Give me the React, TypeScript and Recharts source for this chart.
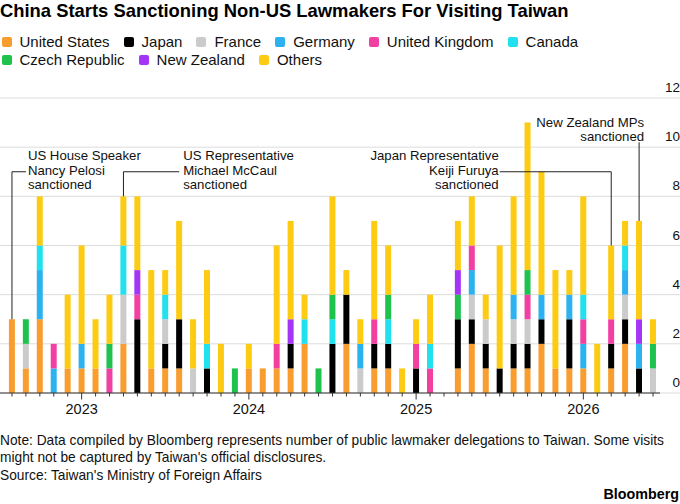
import { BarChart, Bar, XAxis, YAxis, CartesianGrid, ReferenceLine } from 'recharts';

const FONT = '"Liberation Sans", Arial, Helvetica, sans-serif';

// Aug 2022 .. Jun 2026, one bar per month
const months = [
  'Aug 2022', 'Sep 2022', 'Oct 2022', 'Nov 2022', 'Dec 2022',
  'Jan 2023', 'Feb 2023', 'Mar 2023', 'Apr 2023', 'May 2023', 'Jun 2023',
  'Jul 2023', 'Aug 2023', 'Sep 2023', 'Oct 2023', 'Nov 2023', 'Dec 2023',
  'Jan 2024', 'Feb 2024', 'Mar 2024', 'Apr 2024', 'May 2024', 'Jun 2024',
  'Jul 2024', 'Aug 2024', 'Sep 2024', 'Oct 2024', 'Nov 2024', 'Dec 2024',
  'Jan 2025', 'Feb 2025', 'Mar 2025', 'Apr 2025', 'May 2025', 'Jun 2025',
  'Jul 2025', 'Aug 2025', 'Sep 2025', 'Oct 2025', 'Nov 2025', 'Dec 2025',
  'Jan 2026', 'Feb 2026', 'Mar 2026', 'Apr 2026', 'May 2026', 'Jun 2026',
];

const unitedStates = [3, 1, 3, 0, 1, 1, 1, 0, 2, 0, 1, 1, 1, 0, 0, 0, 0, 1, 1, 1, 1, 2, 0, 0, 2, 0, 1, 1, 0, 0, 0, 0, 1, 2, 1, 0, 1, 1, 2, 1, 1, 1, 0, 1, 2, 0, 0];
const japan = [0, 0, 0, 0, 0, 0, 0, 0, 0, 3, 0, 1, 2, 0, 1, 0, 0, 0, 0, 0, 1, 0, 0, 2, 2, 0, 1, 1, 0, 1, 0, 0, 2, 1, 1, 1, 1, 1, 1, 0, 2, 0, 0, 1, 1, 1, 0];
const france = [0, 1, 0, 0, 0, 0, 0, 0, 2, 0, 0, 1, 0, 1, 0, 0, 0, 0, 0, 0, 0, 0, 0, 0, 0, 1, 0, 0, 0, 0, 0, 0, 0, 1, 1, 0, 1, 1, 0, 0, 0, 0, 0, 0, 1, 0, 1];
const germany = [0, 0, 2, 1, 0, 1, 0, 0, 0, 0, 0, 0, 0, 0, 0, 0, 0, 0, 0, 0, 0, 0, 0, 0, 0, 1, 0, 0, 0, 0, 0, 0, 0, 1, 0, 0, 1, 0, 1, 0, 1, 1, 0, 0, 1, 1, 0];
const unitedKingdom = [0, 0, 0, 1, 0, 0, 0, 1, 0, 1, 0, 0, 0, 0, 0, 0, 0, 0, 0, 1, 0, 0, 0, 0, 0, 0, 1, 0, 0, 1, 1, 0, 0, 1, 0, 0, 0, 1, 0, 0, 0, 1, 0, 1, 0, 0, 0];
const canada = [0, 0, 1, 0, 0, 0, 0, 0, 2, 0, 0, 1, 0, 0, 1, 0, 0, 0, 0, 0, 0, 1, 0, 1, 0, 0, 0, 1, 0, 0, 1, 0, 0, 0, 0, 0, 0, 0, 0, 0, 0, 1, 0, 0, 1, 0, 0];
const czechRepublic = [0, 1, 0, 0, 0, 0, 0, 1, 0, 0, 0, 0, 0, 0, 0, 0, 1, 0, 0, 0, 0, 0, 1, 1, 0, 0, 0, 1, 0, 0, 0, 0, 1, 0, 0, 0, 0, 1, 0, 0, 0, 0, 0, 0, 0, 0, 1];
const newZealand = [0, 0, 0, 0, 0, 0, 0, 0, 0, 1, 0, 0, 0, 0, 0, 0, 0, 0, 0, 0, 1, 0, 0, 0, 0, 0, 0, 0, 0, 0, 0, 0, 1, 0, 0, 0, 0, 0, 0, 0, 0, 0, 0, 0, 0, 1, 0];
const others = [0, 0, 2, 0, 3, 4, 2, 2, 2, 3, 4, 1, 4, 2, 3, 2, 0, 1, 0, 4, 4, 1, 0, 4, 1, 1, 4, 2, 1, 1, 2, 0, 2, 2, 1, 5, 4, 6, 5, 4, 1, 4, 2, 3, 1, 4, 1];

const yTicks = [0, 2, 4, 6, 8, 10, 12];

// stacking order, bottom to top
const series = [
  { key: 'us', name: 'United States', values: unitedStates },
  { key: 'jp', name: 'Japan', values: japan },
  { key: 'fr', name: 'France', values: france },
  { key: 'de', name: 'Germany', values: germany },
  { key: 'uk', name: 'United Kingdom', values: unitedKingdom },
  { key: 'ca', name: 'Canada', values: canada },
  { key: 'cz', name: 'Czech Republic', values: czechRepublic },
  { key: 'nz', name: 'New Zealand', values: newZealand },
  { key: 'ot', name: 'Others', values: others },
];

const COLORS: Record<string, string> = {
  'United States': '#f99d2f',
  Japan: '#000000',
  France: '#cbcbcb',
  Germany: '#2cb2f0',
  'United Kingdom': '#f23fa2',
  Canada: '#22e1ef',
  'Czech Republic': '#1fc24d',
  'New Zealand': '#a535f6',
  Others: '#fdcb12',
};

const legendRows = [
  ['United States', 'Japan', 'France', 'Germany', 'United Kingdom', 'Canada'],
  ['Czech Republic', 'New Zealand', 'Others'],
];

const rows = months.map((month, i) => {
  const row: Record<string, string | number> = { month };
  series.forEach((s) => {
    row[s.key] = s.values[i];
  });
  return row;
});

const total = (month: string) => {
  const i = months.indexOf(month);
  return series.reduce((sum, s) => sum + s.values[i], 0);
};

const LINE = '#222';
const ELBOW = 9;

const XTick = (p: any) => {
  const label: string = p.payload.value;
  const major = label.startsWith('Jan');
  return (
    <g>
      <line x1={p.x} x2={p.x} y1={p.y} y2={p.y + (major ? 6.5 : 3.5)} stroke="#333" />
      {major && (
        <text x={p.x} y={p.y + 21} textAnchor="middle" fontSize={14.5} fill="#111">
          {label.slice(4)}
        </text>
      )}
    </g>
  );
};

const YTick = (p: any) => (
  <text x={p.x + 20} y={p.y - 6} textAnchor="end" fontSize={13.5} fill="#111">
    {p.payload.value}
  </text>
);

const gridLine = (p: any) => (
  <line key={`h-${p.index}`} x1={p.x1} x2={p.x2 + 20} y1={p.y1} y2={p.y2} stroke="#dcdcdc" strokeWidth={1} />
);

const noteText = (x: number, y: number, anchor: 'start' | 'end', lines: string[], dys: number[]) => (
  <text x={x} textAnchor={anchor} fontSize={13.2} fill="#111">
    {lines.map((l, i) => (
      <tspan key={i} x={x} y={y + dys[i]}>
        {l}
      </tspan>
    ))}
  </text>
);

const threeLines = [-11.3, 3.3, 17.6];

const pelosiLabel = (p: any) => {
  const vb = p.viewBox;
  return noteText(vb.x + vb.width + 2, vb.y, 'start', ['US House Speaker', 'Nancy Pelosi', 'sanctioned'], threeLines);
};
const mccaulLabel = (p: any) => {
  const vb = p.viewBox;
  return noteText(vb.x + vb.width + 4, vb.y, 'start', ['US Representative', 'Michael McCaul', 'sanctioned'], threeLines);
};
const furuyaLabel = (p: any) => {
  const vb = p.viewBox;
  return noteText(vb.x - 1, vb.y, 'end', ['Japan Representative', 'Keiji Furuya', 'sanctioned'], threeLines);
};
const nzLabel = (p: any) => {
  const vb = p.viewBox;
  return noteText(vb.x + 5, vb.y, 'end', ['New Zealand MPs', 'sanctioned'], [-15.5, -1.5]);
};

const textLine = (top: number, fontSize: number, extra: React.CSSProperties = {}) => ({
  position: 'absolute' as const,
  top,
  left: 0,
  fontSize,
  lineHeight: 1,
  whiteSpace: 'nowrap' as const,
  ...extra,
});

export default function App() {
  return (
    <div style={{ position: 'relative', width: 680, height: 504, fontFamily: FONT, color: '#111', background: '#fff', overflow: 'hidden' }}>
      <style>{'body{margin:0}'}</style>

      <div style={{ position: 'absolute', left: 0, top: 0 }}>
        <BarChart
          width={680}
          height={420}
          data={rows}
          margin={{ top: 98, right: 0, left: 0, bottom: 0 }}
          barCategoryGap="28%"
        >
          <CartesianGrid vertical={false} horizontal={gridLine} />
          <XAxis
            dataKey="month"
            interval={0}
            height={27}
            padding={{ left: 5, right: 0 }}
            tickSize={0}
            tickMargin={0}
            tickLine={false}
            axisLine={{ stroke: '#333' }}
            tick={XTick}
          />
          <YAxis
            orientation="right"
            width={20}
            domain={[0, 12]}
            ticks={yTicks}
            tickSize={0}
            tickMargin={0}
            axisLine={false}
            tickLine={false}
            tick={YTick}
          />
          {series.map((s) => (
            <Bar key={s.key} dataKey={s.key} name={s.name} stackId="a" fill={COLORS[s.name]} isAnimationActive={false} />
          ))}

          <ReferenceLine segment={[{ x: 'Aug 2022', y: total('Aug 2022') }, { x: 'Aug 2022', y: ELBOW }]} stroke={LINE} />
          <ReferenceLine segment={[{ x: 'Aug 2022', y: ELBOW }, { x: 'Sep 2022', y: ELBOW }]} stroke={LINE} label={pelosiLabel} />

          <ReferenceLine segment={[{ x: 'Apr 2023', y: total('Apr 2023') }, { x: 'Apr 2023', y: ELBOW }]} stroke={LINE} />
          <ReferenceLine segment={[{ x: 'Apr 2023', y: ELBOW }, { x: 'Aug 2023', y: ELBOW }]} stroke={LINE} label={mccaulLabel} />

          <ReferenceLine segment={[{ x: 'Mar 2026', y: total('Mar 2026') }, { x: 'Mar 2026', y: ELBOW }]} stroke={LINE} />
          <ReferenceLine segment={[{ x: 'Jul 2025', y: ELBOW }, { x: 'Mar 2026', y: ELBOW }]} stroke={LINE} label={furuyaLabel} />

          <ReferenceLine segment={[{ x: 'May 2026', y: total('May 2026') }, { x: 'May 2026', y: 10.2 }]} stroke={LINE} label={nzLabel} />
        </BarChart>
      </div>

      <div style={textLine(1.7, 18.4, { fontWeight: 700, color: '#000' })}>
        China Starts Sanctioning Non-US Lawmakers For Visiting Taiwan
      </div>

      {legendRows.map((row, r) => (
        <div key={r} style={{ ...textLine(r === 0 ? 34 : 52.3, 15), left: 1.5, display: 'flex', alignItems: 'center' }}>
          {row.map((name) => (
            <span key={name} style={{ display: 'inline-flex', alignItems: 'center', marginRight: 14 }}>
              <span style={{ width: 10, height: 10, borderRadius: 2, background: COLORS[name], marginRight: 8, marginTop: 1 }} />
              {name}
            </span>
          ))}
        </div>
      ))}

      <div style={textLine(434.3, 13.75)}>
        Note: Data compiled by Bloomberg represents number of public lawmaker delegations to Taiwan. Some visits
      </div>
      <div style={textLine(450.6, 13.75)}>might not be captured by Taiwan's official disclosures.</div>
      <div style={textLine(469, 13.75)}>Source: Taiwan's Ministry of Foreign Affairs</div>
      <div style={{ ...textLine(486.5, 14.3, { fontWeight: 700, color: '#000' }), left: 'auto', right: 1 }}>Bloomberg</div>
    </div>
  );
}
